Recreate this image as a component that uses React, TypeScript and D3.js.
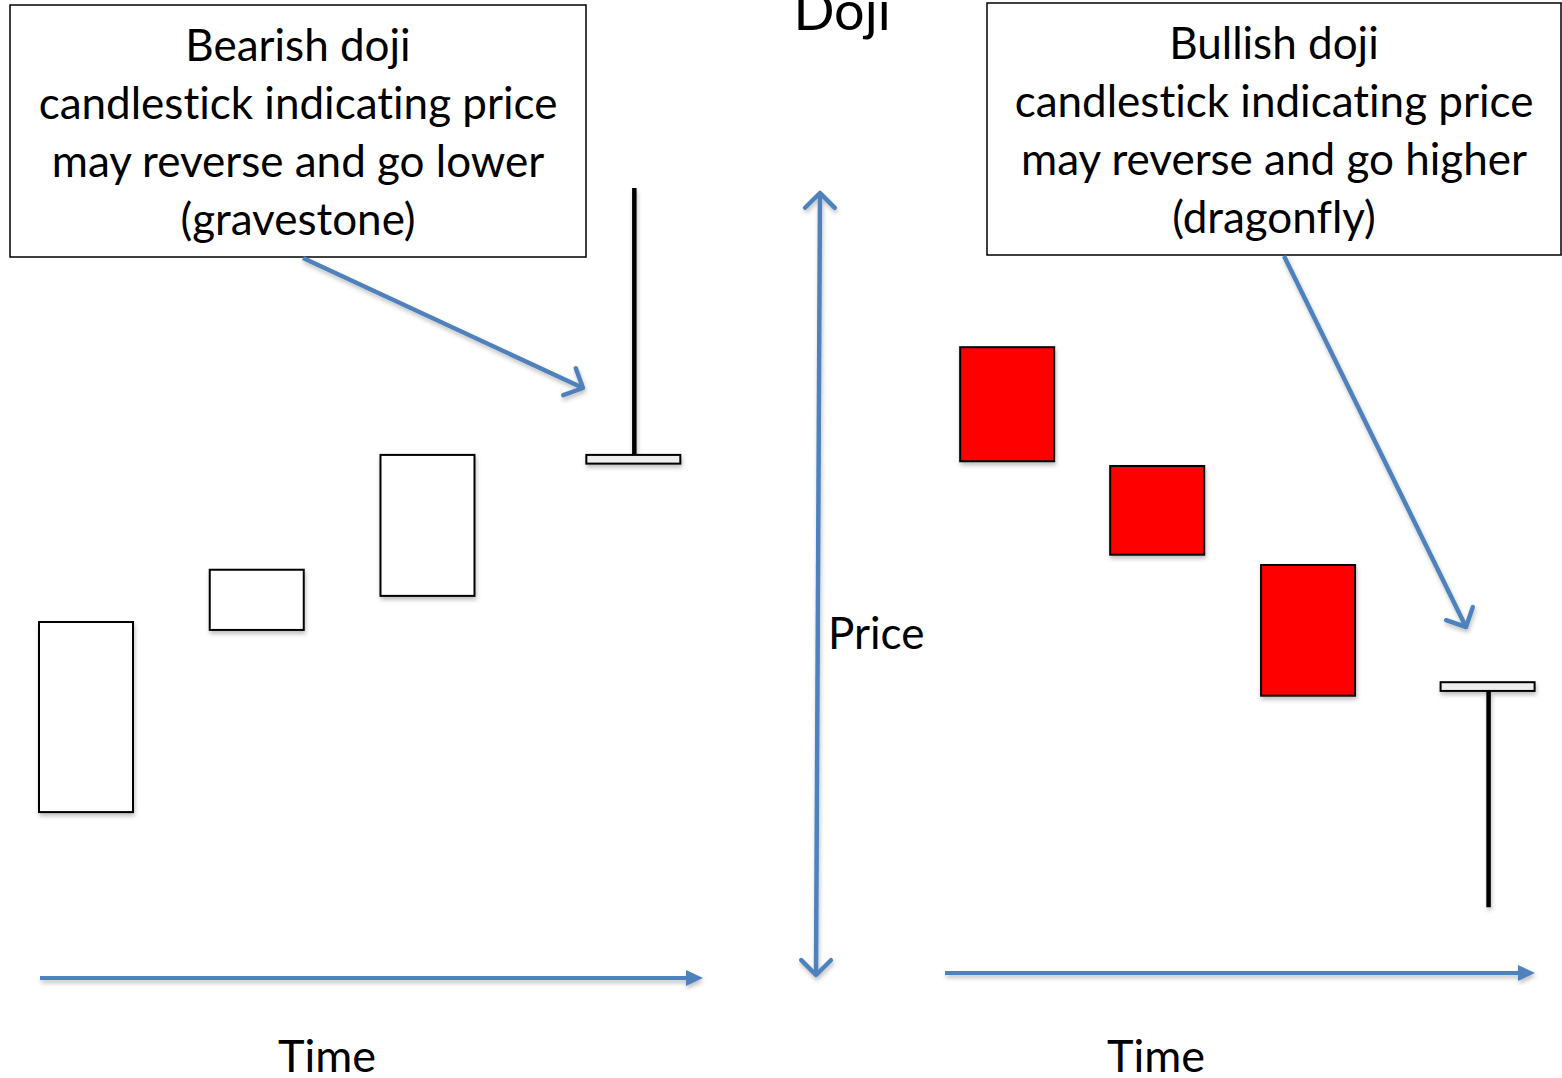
import React from 'react';
import * as d3 from 'd3';

const W = 1562;
const H = 1078;

// candle data: time position, open, close, high, low (price units 0-100)
const bearTimes = [0, 1.8, 3.6, 5.77];
const bearOpen = [21.2, 44.2, 48.5, 65.2];
const bearClose = [45.2, 51.8, 66.3, 66.3];
const bearHigh = [45.2, 51.8, 66.3, 100];
const bearLow = [21.2, 44.2, 48.5, 65.2];

const bullTimes = [0.18, 1.96, 3.75, 5.88];
const bullOpen = [79.9, 64.9, 52.4, 37.6];
const bullClose = [65.5, 53.7, 35.9, 36.5];
const bullHigh = [79.9, 64.9, 52.4, 37.6];
const bullLow = [65.5, 53.7, 35.9, 9.2];

const bearLabel = ['Bearish doji', 'candlestick indicating price', 'may reverse and go lower', '(gravestone)'];
const bullLabel = ['Bullish doji', 'candlestick indicating price', 'may reverse and go higher', '(dragonfly)'];

const blue = '#4f81bd';
const font = 'Lato, "Open Sans", sans-serif';
const candleW = 94;

const y = d3.scaleLinear().domain([0, 100]).range([980, 188]);
const xLeft = d3.scaleLinear().domain([0, 7]).range([39, 703]);
const xRight = d3.scaleLinear().domain([0, 7]).range([945, 1535]);

type Candle = { t: number; o: number; c: number; h: number; l: number };

const toCandles = (t: number[], o: number[], c: number[], h: number[], l: number[]): Candle[] =>
  t.map((v, i) => ({ t: v, o: o[i], c: c[i], h: h[i], l: l[i] }));

const Candles = ({ data, x, fill }: { data: Candle[]; x: d3.ScaleLinear<number, number>; fill: string }) => (
  <g>
    {data.map((d, i) => {
      const top = y(Math.max(d.o, d.c));
      const bot = y(Math.min(d.o, d.c));
      const doji = bot - top < 12;
      const cx = x(d.t) + candleW / 2 + 1;
      return (
        <g key={i} filter="url(#shadow)">
          {d.h > Math.max(d.o, d.c) && (
            <line x1={cx} x2={cx} y1={y(d.h)} y2={top} stroke="#000" strokeWidth={4.5} />
          )}
          {d.l < Math.min(d.o, d.c) && (
            <line x1={cx} x2={cx} y1={bot} y2={y(d.l)} stroke="#000" strokeWidth={4.5} />
          )}
          <rect
            x={x(d.t)}
            y={top}
            width={candleW}
            height={bot - top}
            fill={doji ? '#eeeeee' : fill}
            stroke="#000"
            strokeWidth={2}
          />
        </g>
      );
    })}
  </g>
);

const textStyle = { fontVariantLigatures: 'none' } as React.CSSProperties;

const Label = ({ x0, y0, w, h, lines }: { x0: number; y0: number; w: number; h: number; lines: string[] }) => (
  <g>
    <rect x={x0} y={y0} width={w} height={h} fill="#fff" stroke="#000" strokeWidth={1.5} />
    {lines.map((s, i) => (
      <text key={i} x={x0 + w / 2} y={y0 + 56 + i * 58} textAnchor="middle" fontSize={44} fontFamily={font} style={textStyle}>
        {s}
      </text>
    ))}
  </g>
);

// open arrowhead line
const OpenArrow = ({ x1, y1, x2, y2, both = false }: { x1: number; y1: number; x2: number; y2: number; both?: boolean }) => {
  const head = (px: number, py: number, fx: number, fy: number) => {
    const a = Math.atan2(py - fy, px - fx);
    const L = 21;
    const p1 = [px - L * Math.cos(a - Math.PI / 4), py - L * Math.sin(a - Math.PI / 4)];
    const p2 = [px - L * Math.cos(a + Math.PI / 4), py - L * Math.sin(a + Math.PI / 4)];
    return `M${p1[0]},${p1[1]}L${px},${py}L${p2[0]},${p2[1]}`;
  };
  return (
    <g filter="url(#shadow)" stroke={blue} strokeWidth={4.5} fill="none" strokeLinecap="round" strokeLinejoin="round">
      <line x1={x1} y1={y1} x2={x2} y2={y2} strokeLinecap="butt" />
      <path d={head(x2, y2, x1, y1)} />
      {both && <path d={head(x1, y1, x2, y2)} />}
    </g>
  );
};

const TimeArrow = ({ x1, x2, yy }: { x1: number; x2: number; yy: number }) => (
  <g filter="url(#shadow)">
    <line x1={x1} y1={yy} x2={x2 - 12} y2={yy} stroke={blue} strokeWidth={4} />
    <path d={`M${x2 - 17},${yy - 8}L${x2},${yy}L${x2 - 17},${yy + 8}Z`} fill={blue} />
  </g>
);

export default function App() {
  const bear = toCandles(bearTimes, bearOpen, bearClose, bearHigh, bearLow);
  const bull = toCandles(bullTimes, bullOpen, bullClose, bullHigh, bullLow);
  return (
    <svg width={W} height={H} style={{ position: 'absolute', left: 0, top: 0, background: '#fff' }}>
      <defs>
        <filter id="shadow" x="-20%" y="-20%" width="140%" height="140%">
          <feDropShadow dx={1} dy={3} stdDeviation={2} floodColor="#000" floodOpacity={0.25} />
        </filter>
      </defs>
      <text x={842} y={30} textAnchor="middle" fontSize={54} fontFamily={font}>
        Doji
      </text>

      <Label x0={10} y0={5} w={576} h={252} lines={bearLabel} />
      <Label x0={987} y0={3} w={574} h={252} lines={bullLabel} />

      <Candles data={bear} x={xLeft} fill="#fff" />
      <Candles data={bull} x={xRight} fill="#ff0000" />

      <OpenArrow x1={303} y1={258} x2={583} y2={388} />
      <OpenArrow x1={1284} y1={256} x2={1466} y2={627} />
      <OpenArrow x1={820} y1={193} x2={816} y2={975} both />

      <TimeArrow x1={40} x2={703} yy={978} />
      <TimeArrow x1={945} x2={1535} yy={973} />

      <text x={828} y={649} fontSize={44} fontFamily={font}>
        Price
      </text>
      <text x={327} y={1072} textAnchor="middle" fontSize={45} fontFamily={font}>
        Time
      </text>
      <text x={1156} y={1072} textAnchor="middle" fontSize={45} fontFamily={font}>
        Time
      </text>
    </svg>
  );
}
